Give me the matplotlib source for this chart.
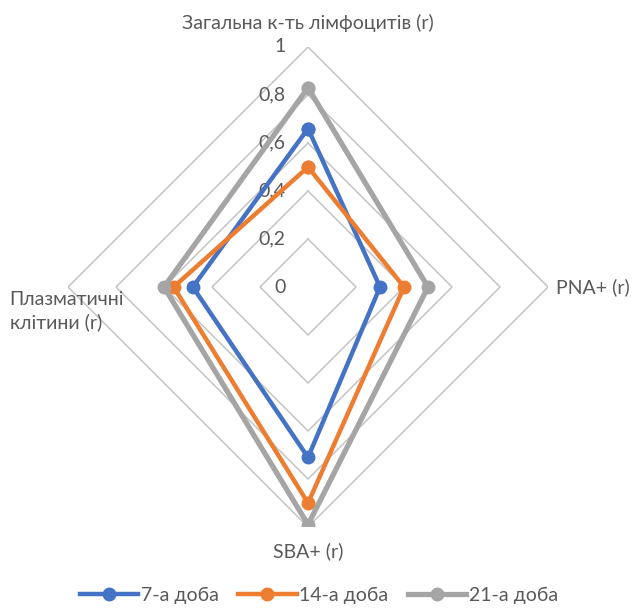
import numpy as np
import matplotlib
matplotlib.use("Agg")
import matplotlib.pyplot as plt

plt.rcParams['font.family'] = ['Lato', 'DejaVu Sans']

categories = ["Загальна к-ть лімфоцитів (r)", "PNA+ (r)", "SBA+ (r)", "Плазматичні\nклітини (r)"]
series_names = ["7-а доба", "14-а доба", "21-а доба"]
day7 = [0.66, 0.30, 0.71, 0.48]
day14 = [0.50, 0.40, 0.90, 0.56]
day21 = [0.83, 0.50, 0.99, 0.60]
rings = [0.2, 0.4, 0.6, 0.8, 1.0]
ring_labels = ["0", "0,2", "0,4", "0,6", "0,8", "1"]

colors = ["#4472C4", "#ED7D31", "#A5A5A5"]
widths = [3.2, 3.2, 3.8]
text_col = "#595959"

fig = plt.figure(figsize=(6.38, 6.08), dpi=100)
ax = fig.add_axes([0.1066, 0.1332, 0.7524, 0.7895], projection="polar")
ax.set_theta_offset(np.pi / 2)
ax.set_theta_direction(-1)

angles = np.linspace(0, 2 * np.pi, len(categories), endpoint=False)
closed = np.append(angles, angles[0])

# diamond grid
for r in rings:
    ax.plot(closed, [r] * len(closed), color="#C4C4C4", lw=1.1, zorder=1)

for vals, name, c, w in zip([day7, day14, day21], series_names, colors, widths):
    v = np.append(vals, vals[0])
    ax.plot(closed, v, color=c, lw=w, marker="o", ms=9, label=name, zorder=3)

ax.set_ylim(0, 1)
ax.grid(False)
ax.spines["polar"].set_visible(False)
ax.set_xticks([])
ax.set_yticks([])
ax.patch.set_alpha(0)

# radial value labels along the top axis
for val, lab in zip([0] + rings, ring_labels):
    ax.annotate(lab, xy=(0, val), xytext=(-16, 0), textcoords="offset points",
                ha="right", va="center", fontsize=14, color=text_col, zorder=2)

# category labels
ax.annotate(categories[0], xy=(angles[0], 1), xytext=(0, 11), textcoords="offset points",
            ha="center", va="bottom", fontsize=14, color=text_col)
ax.annotate(categories[1], xy=(angles[1], 1), xytext=(6, 0), textcoords="offset points",
            ha="left", va="center", fontsize=14, color=text_col)
ax.annotate(categories[2], xy=(angles[2], 1), xytext=(0, -11), textcoords="offset points",
            ha="center", va="top", fontsize=14, color=text_col)
ax.annotate(categories[3], xy=(angles[3], 1), xytext=(-42, -17), textcoords="offset points",
            ha="left", va="center", fontsize=14, color=text_col, linespacing=1.35)

leg = fig.legend(loc="lower center", bbox_to_anchor=(0.5, -0.022), ncol=3, frameon=False,
                 fontsize=14, handlelength=3.0, columnspacing=1.0, handletextpad=0.15)
for t in leg.get_texts():
    t.set_color(text_col)

fig.savefig("out.png", dpi=100)
